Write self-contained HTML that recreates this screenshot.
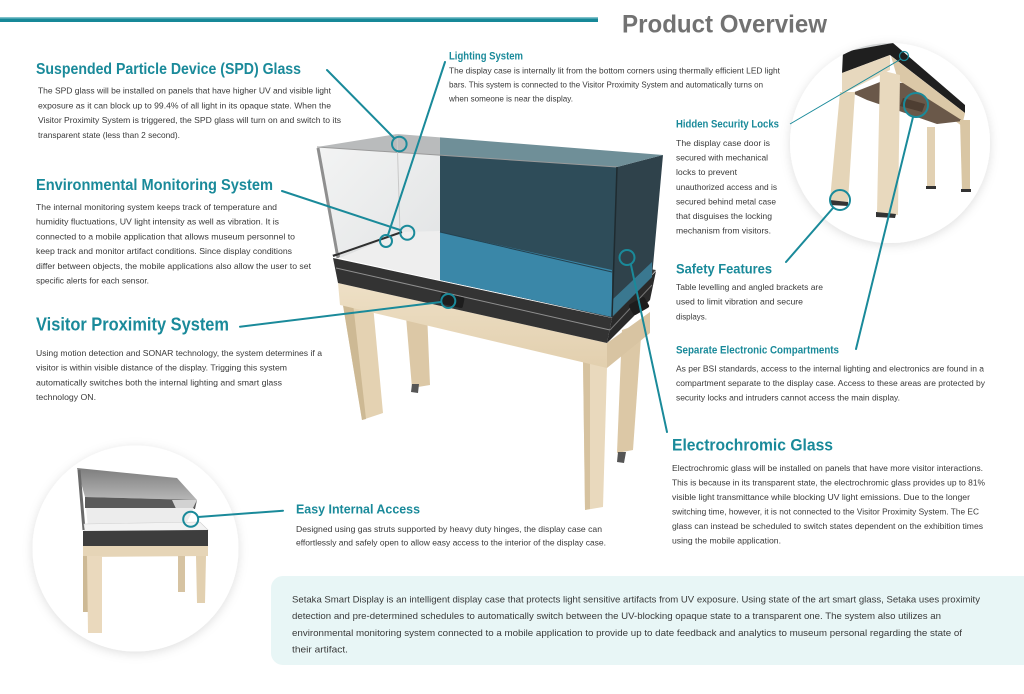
<!DOCTYPE html>
<html>
<head>
<meta charset="utf-8">
<style>
html,body{margin:0;padding:0;background:#fff;}
svg{display:block;}
text{font-family:"Liberation Sans",Arial,sans-serif;}
.h{fill:#1a8a9a;font-weight:bold;}
.b{fill:#3a3a3a;font-size:8.7px;}
.s{fill:#3a3a3a;font-size:9.2px;}
.ln{stroke:#1a8a9a;stroke-width:2;fill:none;stroke-linecap:round;}
.ci{stroke:#1a8a9a;stroke-width:2;fill:none;}
</style>
</head>
<body>
<svg width="1024" height="694" viewBox="0 0 1024 694" xmlns="http://www.w3.org/2000/svg">
<defs>
  <filter id="sh" x="-20%" y="-20%" width="140%" height="140%">
    <feDropShadow dx="0" dy="2" stdDeviation="5" flood-color="#000" flood-opacity="0.13"/>
  </filter>
  <clipPath id="c1"><circle cx="890" cy="143" r="100"/></clipPath>
  <clipPath id="c2"><circle cx="135.5" cy="548.5" r="103"/></clipPath>
  <linearGradient id="wood" x1="0" y1="0" x2="0" y2="1">
    <stop offset="0" stop-color="#eee0c6"/><stop offset="1" stop-color="#e2cfae"/>
  </linearGradient>
  <linearGradient id="clear" x1="0" y1="0" x2="1" y2="1">
    <stop offset="0" stop-color="#f2f3f3"/><stop offset="1" stop-color="#dfe1e2"/>
  </linearGradient>
  <linearGradient id="lid" x1="0" y1="0" x2="0" y2="1">
    <stop offset="0" stop-color="#7d7d7d"/><stop offset="1" stop-color="#b7b7b7"/>
  </linearGradient>
</defs>

<!-- header -->
<rect x="0" y="17" width="598" height="1.5" fill="#7fc1ca"/>
<rect x="0" y="18.5" width="598" height="3.5" fill="#168898"/>
<text x="622" y="32.3" font-size="25" font-weight="bold" fill="#727272" textLength="205" lengthAdjust="spacingAndGlyphs">Product Overview</text>

<!-- Setaka box -->
<rect x="271" y="576" width="780" height="89" rx="12" fill="#e8f6f6"/>

<!-- top-right circle -->
<circle cx="890" cy="143" r="100" fill="#fff" filter="url(#sh)"/>
<g clip-path="url(#c1)">
  <polygon points="845,52 852,40 884,37 893,43" fill="#d3d5d6"/>
  <polygon points="843,52 893,43 965,105 965,113 890,55 842,73" fill="#1f1f1f"/>
  <polygon points="842,73 890,55 890,70 842,94" fill="#e7d8be"/>
  <polygon points="891,56 965,113 962,126 898,80" fill="#dbc8a7"/>
  <polygon points="852,93 880,82 903,83 963,121 937,124 867,100" fill="#6a5849"/>
  <polygon points="903,98 925,104 922,112 900,106" fill="#4e3e32"/>
  <polygon points="927,127 935,127 935,187 927,187" fill="#e2d1b3"/>
  <polygon points="960,120 970,120 970,190 962,190" fill="#d9c6a4"/>
  <polygon points="840,92 855,92 848,202 830,200" fill="#e5d5b8"/>
  <polygon points="880,70 900,75 898,215 877,213" fill="#e8d9be"/>
  <polygon points="876,212 896,214 895,218 876,217" fill="#333"/>
  <polygon points="830,200 848,202 848,206 830,205" fill="#333"/>
  <rect x="926" y="186" width="10" height="3" fill="#333"/>
  <rect x="961" y="189" width="10" height="3" fill="#333"/>
</g>

<!-- bottom-left circle -->
<circle cx="135.5" cy="548.5" r="103" fill="#fff" filter="url(#sh)"/>
<g clip-path="url(#c2)">
  <polygon points="77,468 177,478 197,500 85,497" fill="url(#lid)"/>
  <polygon points="85,497 197,500 195,509 85,508" fill="#5a5a5a"/>
  <polygon points="172,500 197,500 184,526" fill="#d2d2d2"/>
  <polygon points="86,508 194,508 185,526 88,527" fill="#ececec"/>
  <line x1="79" y1="470" x2="84" y2="530" stroke="#6a6a6a" stroke-width="3"/>
  <polygon points="84,524 200,522 208,530 85,532" fill="#f3f3f3" stroke="#cfcfcf" stroke-width="0.6"/>
  <polygon points="83,531 208,530 208,546 83,547" fill="#3d3d3d"/>
  <polygon points="83,546 208,546 208,556 83,557" fill="#e6d5b7"/>
  <polygon points="83,556 89,556 89,612 83,612" fill="#cdb995"/>
  <polygon points="178,556 185,556 185,592 178,592" fill="#d6c3a2"/>
  <polygon points="196,556 206,556 205,603 197,603" fill="#e2d0b0"/>
  <polygon points="87,556 102,556 102,633 88,633" fill="#ead9bd"/>
</g>

<!-- main display case: legs -->
<polygon points="405,305 427,312 430,385 412,388" fill="#dcc8a6"/>
<polygon points="412,384 419,384 418,393 411,392" fill="#555"/>
<polygon points="622,330 642,323 633,450 617,453" fill="#dcc8a6"/>
<polygon points="618,452 626,452 624,463 617,462" fill="#555"/>
<polygon points="340,287 373,305 383,413 362,420" fill="#e4d2b2"/>
<polygon points="340,287 352,294 366,419 362,420" fill="#cdb994"/>
<polygon points="583,360 607,367 603,507 585,510" fill="#e9d9bd"/>
<polygon points="583,360 590,362 590,509 585,510" fill="#d6c29f"/>
<!-- apron -->
<polygon points="338,283 607,343 607,368 340,305" fill="url(#wood)"/>
<polygon points="607,343 650,312 650,333 607,368" fill="#d8c4a2"/>
<!-- base -->
<polygon points="332,255 400,232 656,270 613,318" fill="#3b3b3b"/>
<polygon points="333,258 612,318 607,343 338,283" fill="#333"/>
<polygon points="612,318 656,271 650,300 607,343" fill="#2a2a2a"/>
<line x1="336" y1="268" x2="610" y2="330" stroke="#8e8e8e" stroke-width="1"/>
<line x1="610" y1="330" x2="652" y2="285" stroke="#777" stroke-width="1"/>
<!-- glass: back parts / floor -->
<polygon points="340,258 400,233 440,232 440,280" fill="#e4e5e6"/>
<polygon points="317,147 440,155.2 440,280 340,258" fill="url(#clear)" opacity="0.95"/>
<polygon points="340,258 402,232 440,231 440,280" fill="#eeeeee"/>
<polygon points="440,155.2 617,167 612,317 440,280" fill="#2e4c59"/>
<polygon points="440,232 612,270 612,317 440,280" fill="#3a87a8"/>
<polygon points="617,167 663,155 652,277 612,317" fill="#2f424b"/>
<polygon points="612,300 652,262 652,277 612,317" fill="#3a7890"/>
<!-- top face -->
<polygon points="317,147 397,134 440,137.4 440,155.2" fill="#b9bbbc"/>
<polygon points="440,137.4 663,155 617,167 440,155.2" fill="#6f8f98"/>
<!-- edges -->
<line x1="317" y1="147" x2="617" y2="167" stroke="#9a9a9a" stroke-width="1"/>
<line x1="397" y1="134" x2="400" y2="232" stroke="#c9c9c9" stroke-width="1"/>
<line x1="318" y1="148" x2="338" y2="258" stroke="#8f8f8f" stroke-width="3"/>
<line x1="333" y1="256" x2="402" y2="232" stroke="#2f2f2f" stroke-width="2"/>
<line x1="617" y1="167" x2="612" y2="317" stroke="#1f2b30" stroke-width="1.5"/>
<line x1="440" y1="232" x2="612" y2="272" stroke="#244250" stroke-width="1"/>
<!-- sensors -->
<rect x="440" y="295" width="24" height="11" rx="2" fill="#1d1d1d" transform="rotate(12 452 300)"/>
<rect x="630" y="300" width="18" height="12" rx="2" fill="#1d1d1d" transform="rotate(-30 639 306)"/>

<!-- connectors -->
<line class="ln" x1="327" y1="70" x2="394" y2="138"/>
<circle class="ci" cx="399.3" cy="144" r="7.3"/>
<line class="ln" x1="445" y1="62" x2="388" y2="235"/>
<circle class="ci" cx="386" cy="241" r="6"/>
<line class="ln" x1="282" y1="191" x2="400" y2="230"/>
<circle class="ci" cx="407.3" cy="232.7" r="7"/>
<line class="ln" x1="240" y1="326.7" x2="441" y2="302"/>
<circle class="ci" cx="448.3" cy="301" r="7"/>
<line class="ln" x1="667" y1="432" x2="631" y2="265"/>
<circle class="ci" cx="627" cy="257.5" r="7.5"/>
<line x1="790" y1="124" x2="901" y2="59" stroke="#1a8a9a" stroke-width="1"/>
<circle cx="904" cy="56" r="4.5" stroke="#1a8a9a" stroke-width="1.3" fill="none"/>
<line class="ln" x1="786" y1="262" x2="833" y2="208"/>
<circle class="ci" cx="840" cy="200" r="10"/>
<line class="ln" x1="856" y1="349" x2="913" y2="117"/>
<circle class="ci" cx="916" cy="105" r="12"/>
<line class="ln" x1="283" y1="510.7" x2="198" y2="517"/>
<circle class="ci" cx="190.7" cy="519.3" r="7.5"/>

<!-- SPD -->
<text class="h" x="36" y="74" font-size="16" textLength="265" lengthAdjust="spacingAndGlyphs">Suspended Particle Device (SPD) Glass</text>
<text class="b" x="38" y="93.5" textLength="293" lengthAdjust="spacingAndGlyphs">The SPD glass will be installed on panels that have higher UV and visible light</text>
<text class="b" x="38" y="108.3" textLength="293" lengthAdjust="spacingAndGlyphs">exposure as it can block up to 99.4% of all light in its opaque state. When the</text>
<text class="b" x="38" y="123" textLength="303" lengthAdjust="spacingAndGlyphs">Visitor Proximity System is triggered, the SPD glass will turn on and switch to its</text>
<text class="b" x="38" y="137.8" textLength="142" lengthAdjust="spacingAndGlyphs">transparent state (less than 2 second).</text>

<!-- Env -->
<text class="h" x="36" y="190" font-size="16" textLength="237" lengthAdjust="spacingAndGlyphs">Environmental Monitoring System</text>
<text class="b" x="36" y="210" textLength="241" lengthAdjust="spacingAndGlyphs">The internal monitoring system keeps track of temperature and</text>
<text class="b" x="36" y="224.7" textLength="243" lengthAdjust="spacingAndGlyphs">humidity fluctuations, UV light intensity as well as vibration. It is</text>
<text class="b" x="36" y="239.4" textLength="259" lengthAdjust="spacingAndGlyphs">connected to a mobile application that allows museum personnel to</text>
<text class="b" x="36" y="254.1" textLength="256" lengthAdjust="spacingAndGlyphs">keep track and monitor artifact conditions. Since display conditions</text>
<text class="b" x="36" y="268.8" textLength="275" lengthAdjust="spacingAndGlyphs">differ between objects, the mobile applications also allow the user to set</text>
<text class="b" x="36" y="283.5" textLength="113" lengthAdjust="spacingAndGlyphs">specific alerts for each sensor.</text>

<!-- Visitor -->
<text class="h" x="36" y="330.7" font-size="18" textLength="193" lengthAdjust="spacingAndGlyphs">Visitor Proximity System</text>
<text class="b" x="36" y="356" textLength="286" lengthAdjust="spacingAndGlyphs">Using motion detection and SONAR technology, the system determines if a</text>
<text class="b" x="36" y="370.7" textLength="251" lengthAdjust="spacingAndGlyphs">visitor is within visible distance of the display. Trigging this system</text>
<text class="b" x="36" y="385.4" textLength="246" lengthAdjust="spacingAndGlyphs">automatically switches both the internal lighting and smart glass</text>
<text class="b" x="36" y="400.1" textLength="60" lengthAdjust="spacingAndGlyphs">technology ON.</text>

<!-- Lighting -->
<text class="h" x="449" y="59.3" font-size="10.8" textLength="74" lengthAdjust="spacingAndGlyphs">Lighting System</text>
<text class="b" x="449" y="73.5" textLength="331" lengthAdjust="spacingAndGlyphs">The display case is internally lit from the bottom corners using thermally efficient LED light</text>
<text class="b" x="449" y="87.3" textLength="314" lengthAdjust="spacingAndGlyphs">bars. This system is connected to the Visitor Proximity System and automatically turns on</text>
<text class="b" x="449" y="101.3" textLength="124" lengthAdjust="spacingAndGlyphs">when someone is near the display.</text>

<!-- Hidden -->
<text class="h" x="676" y="127.5" font-size="10.8" textLength="103" lengthAdjust="spacingAndGlyphs">Hidden Security Locks</text>
<text class="b" x="676" y="146" textLength="94" lengthAdjust="spacingAndGlyphs">The display case door is</text>
<text class="b" x="676" y="160.6" textLength="92" lengthAdjust="spacingAndGlyphs">secured with mechanical</text>
<text class="b" x="676" y="175.2" textLength="61" lengthAdjust="spacingAndGlyphs">locks to prevent</text>
<text class="b" x="676" y="189.8" textLength="101" lengthAdjust="spacingAndGlyphs">unauthorized access and is</text>
<text class="b" x="676" y="204.4" textLength="100" lengthAdjust="spacingAndGlyphs">secured behind metal case</text>
<text class="b" x="676" y="219" textLength="96" lengthAdjust="spacingAndGlyphs">that disguises the locking</text>
<text class="b" x="676" y="233.6" textLength="95" lengthAdjust="spacingAndGlyphs">mechanism from visitors.</text>

<!-- Safety -->
<text class="h" x="676" y="273.3" font-size="14" textLength="96" lengthAdjust="spacingAndGlyphs">Safety Features</text>
<text class="b" x="676" y="290" textLength="147" lengthAdjust="spacingAndGlyphs">Table levelling and angled brackets are</text>
<text class="b" x="676" y="304.7" textLength="127" lengthAdjust="spacingAndGlyphs">used to limit vibration and secure</text>
<text class="b" x="676" y="319.3" textLength="31" lengthAdjust="spacingAndGlyphs">displays.</text>

<!-- Separate -->
<text class="h" x="676" y="353.3" font-size="10.8" textLength="163" lengthAdjust="spacingAndGlyphs">Separate Electronic Compartments</text>
<text class="b" x="676" y="371.3" textLength="308" lengthAdjust="spacingAndGlyphs">As per BSI standards, access to the internal lighting and electronics are found in a</text>
<text class="b" x="676" y="386" textLength="309" lengthAdjust="spacingAndGlyphs">compartment separate to the display case. Access to these areas are protected by</text>
<text class="b" x="676" y="400.7" textLength="224" lengthAdjust="spacingAndGlyphs">security locks and intruders cannot access the main display.</text>

<!-- Electrochromic -->
<text class="h" x="672" y="450.7" font-size="17" textLength="161" lengthAdjust="spacingAndGlyphs">Electrochromic Glass</text>
<text class="b" x="672" y="471" textLength="311" lengthAdjust="spacingAndGlyphs">Electrochromic glass will be installed on panels that have more visitor interactions.</text>
<text class="b" x="672" y="485.5" textLength="313" lengthAdjust="spacingAndGlyphs">This is because in its transparent state, the electrochromic glass provides up to 81%</text>
<text class="b" x="672" y="500" textLength="298" lengthAdjust="spacingAndGlyphs">visible light transmittance while blocking UV light emissions. Due to the longer</text>
<text class="b" x="672" y="514.5" textLength="307" lengthAdjust="spacingAndGlyphs">switching time, however, it is not connected to the Visitor Proximity System. The EC</text>
<text class="b" x="672" y="529" textLength="311" lengthAdjust="spacingAndGlyphs">glass can instead be scheduled to switch states dependent on the exhibition times</text>
<text class="b" x="672" y="543.5" textLength="109" lengthAdjust="spacingAndGlyphs">using the mobile application.</text>

<!-- Easy -->
<text class="h" x="296" y="513.3" font-size="13" textLength="124" lengthAdjust="spacingAndGlyphs">Easy Internal Access</text>
<text class="b" x="296" y="532" textLength="306" lengthAdjust="spacingAndGlyphs">Designed using gas struts supported by heavy duty hinges, the display case can</text>
<text class="b" x="296" y="545.5" textLength="310" lengthAdjust="spacingAndGlyphs">effortlessly and safely open to allow easy access to the interior of the display case.</text>

<!-- Setaka -->
<text class="s" x="292" y="602.5" textLength="688" lengthAdjust="spacingAndGlyphs">Setaka Smart Display is an intelligent display case that protects light sensitive artifacts from UV exposure. Using state of the art smart glass, Setaka uses proximity</text>
<text class="s" x="292" y="619.2" textLength="649" lengthAdjust="spacingAndGlyphs">detection and pre-determined schedules to automatically switch between the UV-blocking opaque state to a transparent one. The system also utilizes an</text>
<text class="s" x="292" y="635.9" textLength="670" lengthAdjust="spacingAndGlyphs">environmental monitoring system connected to a mobile application to provide up to date feedback and analytics to museum personal regarding the state of</text>
<text class="s" x="292" y="652.6" textLength="56" lengthAdjust="spacingAndGlyphs">their artifact.</text>
</svg>
</body>
</html>
